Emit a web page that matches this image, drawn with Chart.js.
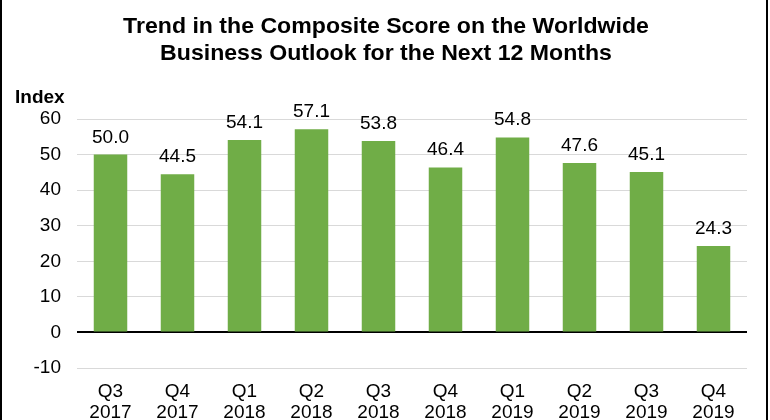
<!DOCTYPE html>
<html>
<head>
<meta charset="utf-8">
<script src="https://cdn.jsdelivr.net/npm/chart.js@4/dist/chart.umd.min.js"></script>
<style>
  html, body { margin: 0; padding: 0; background: #fff; }
  #wrap { width: 770px; height: 420px; position: relative; }
</style>
</head>
<body>
<div id="wrap"><canvas id="outlook" width="770" height="420"></canvas></div>
<script>
const FONT = '"Liberation Sans", Arial, sans-serif';

const TITLE_LINES = [
  'Trend in the Composite Score on the Worldwide',
  'Business Outlook for the Next 12 Months',
];
const AXIS_TITLE = 'Index';

const quarters = ['Q3', 'Q4', 'Q1', 'Q2', 'Q3', 'Q4', 'Q1', 'Q2', 'Q3', 'Q4'];
const years = ['2017', '2017', '2018', '2018', '2018', '2018', '2019', '2019', '2019', '2019'];
const scores = [50.0, 44.5, 54.1, 57.1, 53.8, 46.4, 54.8, 47.6, 45.1, 24.3];

const Y_MIN = -10;
const Y_MAX = 60;
const Y_STEP = 10;

const BAR_GREEN = '#70ad47';

// Title, "Index" caption, value labels and the side frame lines.
const decorations = {
  id: 'decorations',
  afterDatasetsDraw(chart) {
    const { ctx } = chart;
    ctx.save();
    ctx.fillStyle = '#000';

    // reference text is a touch wider than it is tall, so stretch a little
    ctx.save();
    ctx.translate(386, 0);
    ctx.scale(1.05, 1);
    ctx.font = `bold 22px ${FONT}`;
    ctx.textAlign = 'center';
    ctx.textBaseline = 'alphabetic';
    ctx.fillText(TITLE_LINES[0], 0, 33);
    ctx.fillText(TITLE_LINES[1], 0, 60);
    ctx.restore();

    ctx.font = `bold 19px ${FONT}`;
    ctx.textAlign = 'left';
    ctx.fillText(AXIS_TITLE, 15, 103);

    ctx.font = `19px ${FONT}`;
    ctx.textAlign = 'center';
    const meta = chart.getDatasetMeta(0);
    meta.data.forEach((bar, i) => {
      ctx.fillText(scores[i].toFixed(1), bar.x, bar.y - 12);
    });

    ctx.fillRect(0, 0, 2, 420);
    ctx.fillRect(766, 0, 2, 420);
    ctx.restore();
  },
};

new Chart(document.getElementById('outlook'), {
  type: 'bar',
  data: {
    labels: quarters.map((q, i) => [q, years[i]]),
    datasets: [{
      data: scores,
      backgroundColor: BAR_GREEN,
      categoryPercentage: 1,
      barPercentage: 0.5,
    }],
  },
  options: {
    responsive: false,
    animation: false,
    devicePixelRatio: 1,
    layout: { padding: { top: 119, right: 23, bottom: 0, left: 0 } },
    plugins: {
      legend: { display: false },
      title: { display: false },
      tooltip: { enabled: false },
    },
    scales: {
      x: {
        grid: { display: false, drawTicks: false },
        border: { display: false },
        ticks: {
          color: '#000',
          padding: 13,
          maxRotation: 0,
          font: { family: FONT, size: 19, lineHeight: 1.1 },
        },
        afterFit(scale) { scale.height = 52; },
      },
      y: {
        min: Y_MIN,
        max: Y_MAX,
        border: { display: false },
        grid: {
          drawTicks: false,
          color: (c) => (c.tick && c.tick.value === 0 ? '#000' : '#d9d9d9'),
          lineWidth: (c) => (c.tick && c.tick.value === 0 ? 2 : 1),
        },
        ticks: {
          stepSize: Y_STEP,
          color: '#000',
          padding: 16,
          font: { family: FONT, size: 19 },
        },
        afterFit(scale) { scale.width = 77; },
      },
    },
  },
  plugins: [decorations],
});
</script>
</body>
</html>
